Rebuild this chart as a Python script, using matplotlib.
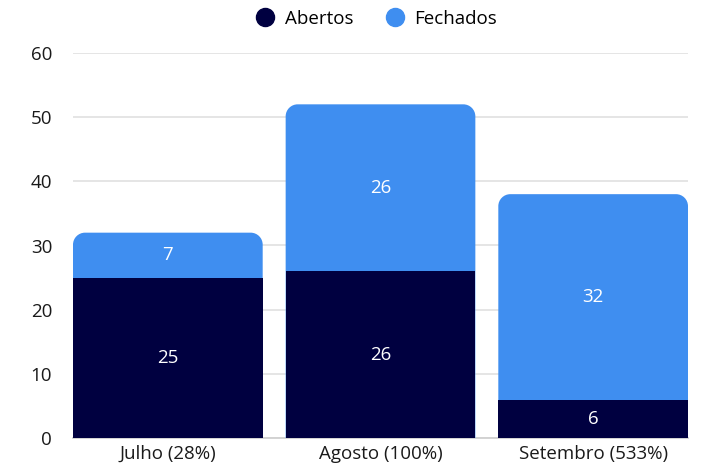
import matplotlib
matplotlib.use("Agg")
import matplotlib.pyplot as plt
from matplotlib.path import Path
from matplotlib.patches import PathPatch
from matplotlib.lines import Line2D

plt.rcParams['font.family'] = ['Open Sans', 'DejaVu Sans']

categories = ["Julho (28%)", "Agosto (100%)", "Setembro (533%)"]
abertos = [25, 26, 6]
fechados = [7, 26, 32]
series_names = ["Abertos", "Fechados"]
yticks = [0, 10, 20, 30, 40, 50, 60]

c_dark = "#000040"
c_blue = "#3F8EF0"
fs = 13.5

fig = plt.figure(figsize=(7.27, 4.73), dpi=100)
ax = fig.add_axes([73/727, 35/473, 615/727, 385/473])

width = 0.892
x = list(range(len(categories)))
ax.set_xlim(-width/2, len(categories) - 1 + width/2)
ax.set_ylim(0, 60)

fig.canvas.draw()
r_px = 12
bbox = ax.get_window_extent()
rx = r_px * (ax.get_xlim()[1] - ax.get_xlim()[0]) / bbox.width
ry = r_px * (ax.get_ylim()[1] - ax.get_ylim()[0]) / bbox.height

for xi, a, f in zip(x, abertos, fechados):
    x0, x1 = xi - width/2, xi + width/2
    y0, y1 = 0, a + f
    k = 0.5523
    verts = [
        (x0, y0), (x1, y0), (x1, y1 - ry),
        (x1, y1 - ry + k*ry), (x1 - rx + k*rx, y1), (x1 - rx, y1),
        (x0 + rx, y1),
        (x0 + rx - k*rx, y1), (x0, y1 - ry + k*ry), (x0, y1 - ry),
        (x0, y0),
    ]
    codes = [Path.MOVETO, Path.LINETO, Path.LINETO,
             Path.CURVE4, Path.CURVE4, Path.CURVE4,
             Path.LINETO,
             Path.CURVE4, Path.CURVE4, Path.CURVE4,
             Path.CLOSEPOLY]
    ax.add_patch(PathPatch(Path(verts, codes), facecolor=c_blue, edgecolor='none', zorder=3))

ax.bar(x, abertos, width=width, color=c_dark, zorder=3.5)

for xi, a, f in zip(x, abertos, fechados):
    ax.text(xi, a / 2, str(a), ha='center', va='center', color='white', fontsize=fs, zorder=4)
    ax.text(xi, a + f / 2, str(f), ha='center', va='center', color='white', fontsize=fs, zorder=4)

ax.set_yticks(yticks)
ax.set_xticks(x)
ax.set_xticklabels(categories)
ax.tick_params(axis='both', length=0, labelsize=fs, colors='#1a1a1a')
ax.tick_params(axis='y', pad=15)
ax.tick_params(axis='x', pad=5)
ax.grid(axis='y', color='#e3e3e3', linewidth=1.3, zorder=0)
for s in ['top', 'right', 'left']:
    ax.spines[s].set_visible(False)
ax.spines['bottom'].set_color('#d0d0d0')
ax.spines['bottom'].set_linewidth(1.3)

handles = [Line2D([], [], marker='o', linestyle='none', markersize=13, color=c_dark),
           Line2D([], [], marker='o', linestyle='none', markersize=13, color=c_blue)]
fig.legend(handles, series_names, loc='center', bbox_to_anchor=(372/727, 1 - 19/473),
           ncol=2, frameon=False, fontsize=fs, handletextpad=0.05, columnspacing=1.2)

fig.savefig("out.png", dpi=100)
